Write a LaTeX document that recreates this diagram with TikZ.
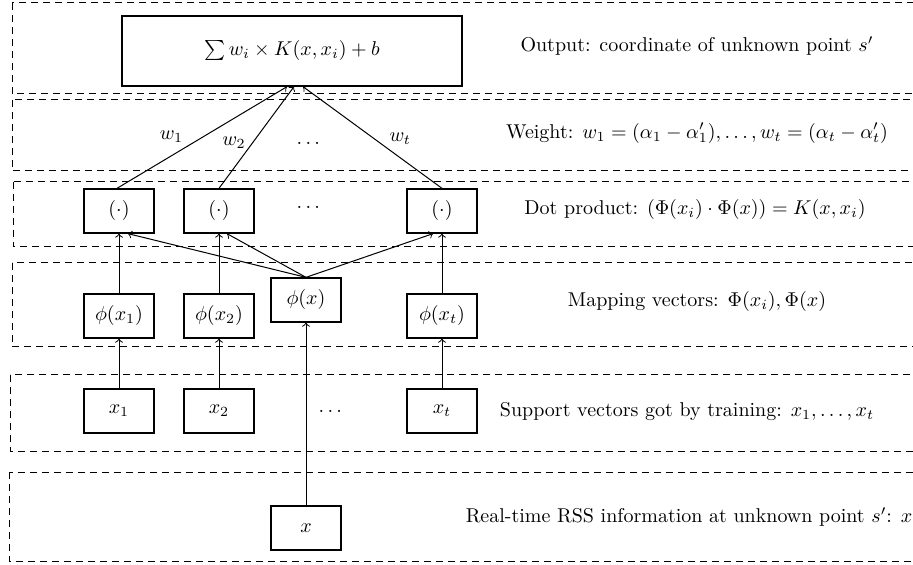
\documentclass[tikz,border=0pt]{standalone}
\usepackage{amsmath}
\usepackage{amssymb}
\usetikzlibrary{positioning,arrows}
\tikzset{every picture/.style={>=to,semithick}}
\tikzset{layer lines/.style={line width=0.5pt,dash pattern=on 3.5pt off 2.5pt}}
\tikzset{unit/.style={draw,line width=0.65pt,minimum width=35pt,minimum height=22pt,inner sep=1pt}}
\tikzset{link/.style={->,line width=0.5pt}}

\begin{document}
\begin{tikzpicture}[x=0.5pt,y=-0.5pt]
      \useasboundingbox (0,0) rectangle (913,565);
      \clip (0,0) rectangle (913,565);
      % layers
      \draw [layer lines] (12,3) rectangle (930,94);
      \draw [layer lines] (12,100) rectangle (930,171);
      \draw [layer lines] (13,182) rectangle (930,247);
      \draw [layer lines] (12,263) rectangle (930,347);
      \draw [layer lines] (10,375) rectangle (930,451);
      \draw [layer lines] (9,472) rectangle (930,561);
      % units
      \node [unit,minimum width=170pt,minimum height=35pt] (out) at (292,51) {$\sum w_i \times K(x, x_i) + b$};
      \node [unit] (dot1) at (119,211) {$(\cdot)$};
      \node [unit] (dot2) at (219,211) {$(\cdot)$};
      \node [unit] (dott) at (442,211) {$(\cdot)$};
      \node [unit] (phi1) at (119,316) {$\phi(x_1)$};
      \node [unit] (phi2) at (219,316) {$\phi(x_2)$};
      \node [unit] (phix) at (306,300) {$\phi(x)$};
      \node [unit] (phit) at (442,316) {$\phi(x_t)$};
      \node [unit] (sv1) at (119,411) {$x_1$};
      \node [unit] (sv2) at (219,411) {$x_2$};
      \node [unit] (svt) at (442,411) {$x_t$};
      \node [unit] (rx) at (306,528) {$x$};
      \node (dotsw) at (310,143) {$\dots$};
      \node (dotsd) at (310,207) {$\dots$};
      \node (dotss) at (332,411) {$\dots$};
      % connectors
      \draw [link] (rx) -- (phix);
      \draw [link] (sv1) -- (phi1);
      \draw [link] (sv2) -- (phi2);
      \draw [link] (svt) -- (phit);
      \draw [link] (phi1) -- (dot1);
      \draw [link] (phi2) -- (dot2);
      \draw [link] (phit) -- (dott);
      \draw [link] (phix.north) -- ([xshift=4.5pt]dot1.south);
      \draw [link] (phix.north) -- ([xshift=4pt]dot2.south);
      \draw [link] (phix.north) -- ([xshift=-4.5pt]dott.south);
      \draw [link] ([xshift=-1pt]dot1.north) -- node[pos=0.32,above=3pt] {$w_1$} ([xshift=-2.5pt]out.south);
      \draw [link] (dot2.north) -- node[pos=0.45,left] {$w_2$} ([xshift=1pt]out.south);
      \draw [link] (dott.north) -- node[pos=0.3,above=3pt] {$w_t$} ([xshift=5.5pt]out.south);
      % layer texts
      \node (txtout) at (697,46) {Output: coordinate of unknown point $s'$};
      \node (txtw) at (697,133) {Weight: $w_1 = (\alpha_1 - \alpha'_1), \dots, w_t = (\alpha_t - \alpha'_t)$};
      \node (txtd) at (695,210) {Dot product: $(\Phi(x_i) \cdot \Phi(x)) = K(x, x_i)$};
      \node (txtm) at (697,302) {Mapping vectors: $\Phi(x_i), \Phi(x)$};
      \node (txts) at (687,412) {Support vectors got by training: $x_1, \dots, x_t$};
      \node (txtr) at (689,517) {Real-time RSS information at unknown point $s'$: $x$};
\end{tikzpicture}
\end{document}
